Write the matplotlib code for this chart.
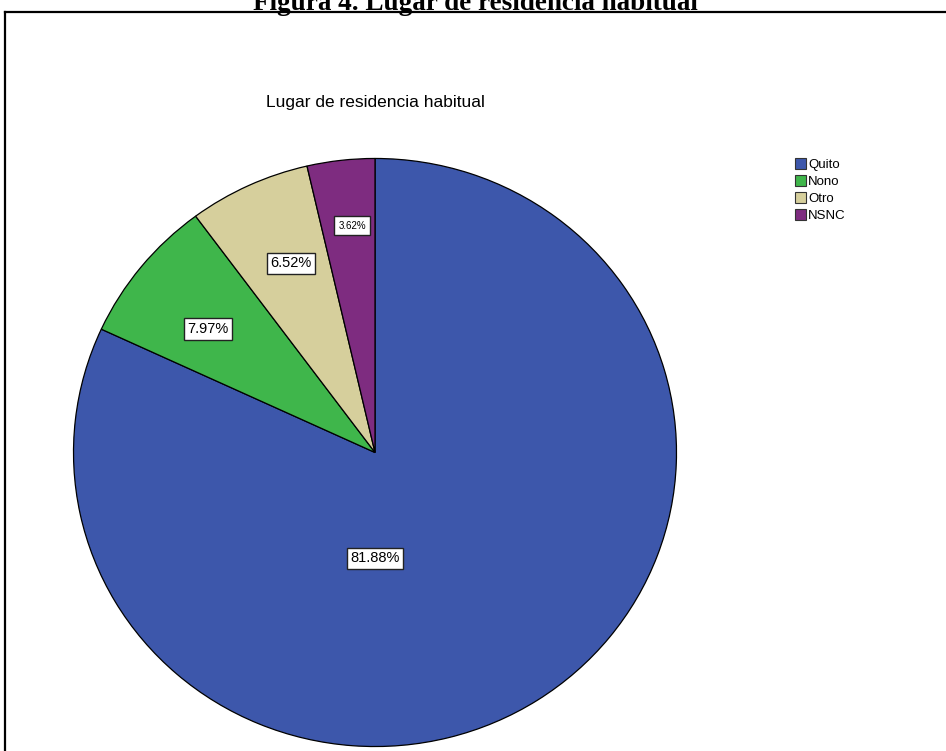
import matplotlib
matplotlib.use("Agg")
import matplotlib.pyplot as plt
from matplotlib.patches import Patch
from matplotlib.lines import Line2D

# data
categories = ["Quito", "Nono", "Otro", "NSNC"]
percentages = [81.88, 7.97, 6.52, 3.62]
colors = ["#3d57ab", "#3fb64b", "#d6cf9c", "#7e2c80"]

W, H = 946, 751
fig = plt.figure(figsize=(W / 100, H / 100), dpi=100)

# document frame (top and left edges visible)
fig.add_artist(Line2D([5 / W, 1], [1 - 12 / H, 1 - 12 / H], color="black", lw=1.6))
fig.add_artist(Line2D([5 / W, 5 / W], [1 - 12 / H, 0], color="black", lw=1.6))

# caption, cut at the top of the picture like in the scan
fig.text(475 / W, 1 - 10 / H, "Figura 4. Lugar de residencia habitual",
         ha="center", va="baseline", fontsize=19.5, fontweight="bold",
         family="Liberation Serif")

# chart title
fig.text(375 / W, 1 - 103 / H, "Lugar de residencia habitual",
         ha="center", va="center", fontsize=12.5, family="Liberation Sans")

# pie axes
ax = fig.add_axes([72 / W, 1 - 748 / H, 606 / W, 591 / H])
wedges, texts = ax.pie(
    percentages, colors=colors, startangle=90, counterclock=False,
    wedgeprops=dict(edgecolor="black", linewidth=0.9))
ax.set_aspect("auto")
ax.set_xlim(-1.005, 1.005)
ax.set_ylim(-1.005, 1.005)

# label spots inside the slices (SPSS puts the big one under the centre)
label_pos = [(0, -0.36), (-0.554, 0.42), (-0.279, 0.643), (-0.076, 0.772)]
for i, p in enumerate(percentages):
    small = p < 5
    ax.text(label_pos[i][0], label_pos[i][1], "%.2f%%" % p,
            ha="center", va="center", family="Liberation Sans",
            fontsize=7 if small else 10.5,
            bbox=dict(facecolor="white", edgecolor="#222222", linewidth=1.0,
                      boxstyle="square,pad=%s" % (0.45 if small else 0.25)))

handles = [Patch(facecolor=c, edgecolor="#333333", linewidth=0.8) for c in colors]
fig.legend(handles, categories, loc="upper left",
           bbox_to_anchor=(795 / W, 1 - 158 / H), frameon=False,
           prop={"family": "Liberation Sans", "size": 9.5},
           handlelength=0.85, handleheight=0.9, handletextpad=0.15,
           labelspacing=0.3, borderpad=0, borderaxespad=0)

fig.savefig("out.png", dpi=100)
